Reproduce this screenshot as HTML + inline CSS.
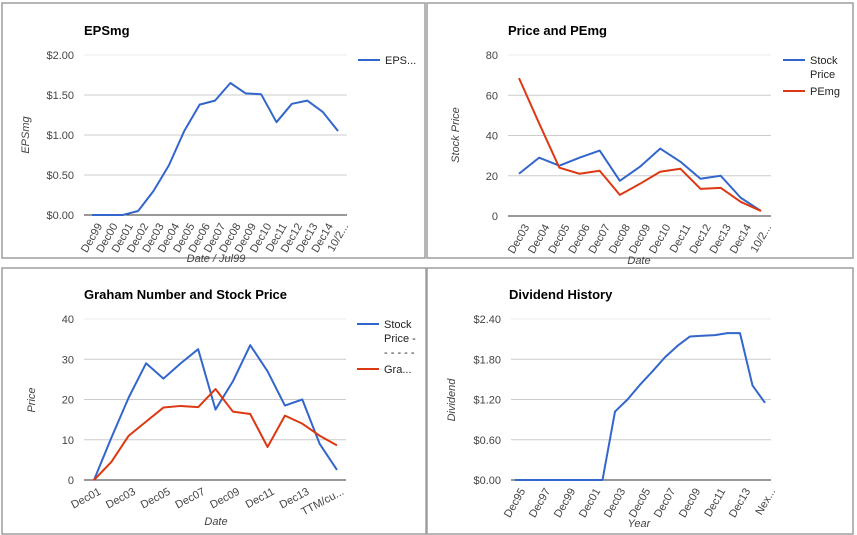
<!DOCTYPE html>
<html><head><meta charset="utf-8"><style>
body{margin:0;width:857px;height:535px;background:#fff;overflow:hidden;font-family:"Liberation Sans",sans-serif}
svg{position:absolute;left:0;top:0}
</style></head><body>
<svg id="s" width="857" height="535"></svg>
<script>
const c1Cats=["Dec99","Dec00","Dec01","Dec02","Dec03","Dec04","Dec05","Dec06","Dec07","Dec08","Dec09","Dec10","Dec11","Dec12","Dec13","Dec14","10/2..."];
const c1Eps=[0,0,0,0.05,0.3,0.62,1.05,1.38,1.43,1.65,1.52,1.51,1.16,1.39,1.43,1.29,1.05];
const c1Ticks=["$0.00","$0.50","$1.00","$1.50","$2.00"];
const c2Cats=["Dec03","Dec04","Dec05","Dec06","Dec07","Dec08","Dec09","Dec10","Dec11","Dec12","Dec13","Dec14","10/2..."];
const c2Price=[21,29,25,29,32.5,17.5,24.5,33.5,27,18.5,20,9,2.5];
const c2Pe=[68.5,46,24,21,22.5,10.5,16,22,23.5,13.5,14,7,2.5];
const c2Ticks=["0","20","40","60","80"];
const c3Cats=["Dec01","Dec02","Dec03","Dec04","Dec05","Dec06","Dec07","Dec08","Dec09","Dec10","Dec11","Dec12","Dec13","Dec14","TTM/cu..."];
const c3Price=[0,10.5,20.5,29,25.2,29,32.5,17.5,24.5,33.5,27,18.5,20,9,2.5];
const c3Graham=[0,4.5,11,14.5,18,18.4,18.1,22.6,17,16.4,8.2,16,14,11,8.6];
const c3Ticks=["0","10","20","30","40"];
const c4Cats=["Dec95","Dec96","Dec97","Dec98","Dec99","Dec00","Dec01","Dec02","Dec03","Dec04","Dec05","Dec06","Dec07","Dec08","Dec09","Dec10","Dec11","Dec12","Dec13","Dec14","Nex..."];
const c4Div=[0,0,0,0,0,0,0,0,1.02,1.2,1.42,1.62,1.83,2.0,2.14,2.15,2.16,2.19,2.19,1.41,1.15];
const c4Ticks=["$0.00","$0.60","$1.20","$1.80","$2.40"];

const S=document.getElementById('s'),NS="http://www.w3.org/2000/svg";
function el(t,a,p){const e=document.createElementNS(NS,t);for(const k in a)e.setAttribute(k,a[k]);(p||S).appendChild(e);return e;}
function txt(x,y,s,a,p){const e=el('text',Object.assign({x:x,y:y,'font-size':11,fill:'#444'},a),p);e.textContent=s;return e;}
function chart(o){
 const g=el('g',{});
 
 
 const b=el('rect',{x:o.bx,y:o.by,width:o.bw,height:o.bh,fill:'#fff',stroke:'#9e9e9e','stroke-width':1.5},g);
 
 const t=txt(o.tx,o.ty,o.title,{'font-size':13,'font-weight':'bold',fill:'#000'},g);
 
 const n=o.ticks.length-1;
 const Y=v=>o.y0-(v/o.ymax)*(o.y0-o.y1);
 const X=i=>o.x0+i*(o.x1-o.x0)/(o.cats.length-1);
 o.ticks.forEach((tk,i)=>{const v=o.ymax*i/n,y=Y(v);
  const l=el('line',{x1:o.px0,x2:o.px1,y1:y,y2:y,stroke:i==0?'#333':(i==n?'#ebebeb':'#ccc'),'stroke-width':1},g);
  
  const e=txt(o.px0-10,y+4,tk,{'text-anchor':'end'},g);
  });
 o.cats.forEach((c,i)=>{if(i%o.step)return;const x=X(i)+4,y=o.y0+7;
  const e=txt(x,y,c,{'text-anchor':'end',transform:`rotate(${o.rot} ${x} ${y})`,dy:'0.7em'},g);
  });
 o.series.forEach(s=>{const p=el('polyline',{points:s.v.map((v,i)=>X(i)+','+Y(v)).join(' '),fill:'none',stroke:s.c,'stroke-width':2,'stroke-linejoin':'round'},g);
  });
 const xt=txt(o.xtx,o.xty,o.xt,{'text-anchor':'middle','font-style':'italic'},g);
 
 const yt=txt(o.ytx,o.yty,o.yt,{'text-anchor':'middle','font-style':'italic',transform:`rotate(-90 ${o.ytx} ${o.yty})`},g);
 
 o.legend.forEach(L=>{
  const lg=el('g',{},g);
  if(L.c)el('line',{x1:L.x,x2:L.x+22,y1:L.y,y2:L.y,stroke:L.c,'stroke-width':2},lg);
  L.lines.forEach((s,k)=>txt(L.x+27,L.y+4+k*14,s,{fill:'#222'},lg));});
}
const B='#3366cc',R='#dc3912';
chart({name:'epsmg-chart',bx:2,by:3,bw:423,bh:255,title:'EPSmg',tx:84,ty:35,cats:c1Cats,ticks:c1Ticks,ymax:2,y0:215,y1:55,
 px0:84,px1:347,x0:92,x1:338,step:1,rot:-60,series:[{v:c1Eps,c:B,n:'eps-line'}],xt:'Date / Jul99',xtx:216,xty:262,yt:'EPSmg',ytx:29,yty:135,
 legend:[{x:358,y:60,c:B,lines:['EPS...']}]});
chart({name:'price-pemg-chart',bx:427,by:3,bw:426,bh:255,title:'Price and PEmg',tx:508,ty:35,cats:c2Cats,ticks:c2Ticks,ymax:80,y0:216,y1:55,
 px0:508,px1:771,x0:519,x1:761,step:1,rot:-60,series:[{v:c2Price,c:B,n:'stock-price-line'},{v:c2Pe,c:R,n:'pemg-line'}],xt:'Date',xtx:639,xty:264,yt:'Stock Price',ytx:459,yty:135,
 legend:[{x:783,y:60,c:B,lines:['Stock','Price']},{x:783,y:91,c:R,lines:['PEmg']}]});
chart({name:'graham-chart',bx:2,by:268,bw:424,bh:266,title:'Graham Number and Stock Price',tx:84,ty:299,cats:c3Cats,ticks:c3Ticks,ymax:40,y0:480,y1:319,
 px0:84,px1:346,x0:94,x1:337,step:2,rot:-28,series:[{v:c3Price,c:B,n:'stock-price-line'},{v:c3Graham,c:R,n:'graham-line'}],xt:'Date',xtx:216,xty:525,yt:'Price',ytx:35,yty:400,
 legend:[{x:357,y:324,c:B,lines:['Stock','Price -','- - - - -']},{x:357,y:369,c:R,lines:['Gra...']}]});
chart({name:'dividend-chart',bx:427,by:268,bw:426,bh:266,title:'Dividend History',tx:509,ty:299,cats:c4Cats,ticks:c4Ticks,ymax:2.4,y0:480,y1:319,
 px0:511,px1:771,x0:515,x1:765,step:2,rot:-60,series:[{v:c4Div,c:B,n:'dividend-line'}],xt:'Year',xtx:639,xty:527,yt:'Dividend',ytx:455,yty:400,
 legend:[]});
</script>
</body></html>
